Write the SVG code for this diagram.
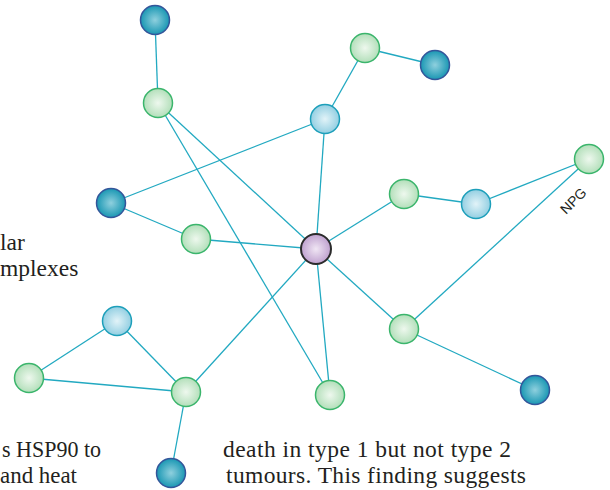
<svg xmlns="http://www.w3.org/2000/svg" width="610" height="490" viewBox="0 0 610 490">
<defs>
<radialGradient id="gDark" cx="50%" cy="50%" r="50%">
<stop offset="0" stop-color="#8fd0de"/>
<stop offset="1" stop-color="#1a97b3"/>
</radialGradient>
<radialGradient id="gLight" cx="50%" cy="50%" r="50%">
<stop offset="0" stop-color="#e2f3f8"/>
<stop offset="1" stop-color="#93cfe2"/>
</radialGradient>
<radialGradient id="gGreen" cx="50%" cy="50%" r="50%">
<stop offset="0" stop-color="#eef8ee"/>
<stop offset="1" stop-color="#b3dfba"/>
</radialGradient>
<radialGradient id="gPurple" cx="50%" cy="50%" r="50%">
<stop offset="0" stop-color="#f0e6f4"/>
<stop offset="1" stop-color="#bfa1cf"/>
</radialGradient>
</defs>
<style>
.edge{stroke:#22a9c1;stroke-width:1.3;fill:none}
.dark{fill:url(#gDark);stroke:#34559a;stroke-width:1.5}
.light{fill:url(#gLight);stroke:#1d9fba;stroke-width:1.5}
.green{fill:url(#gGreen);stroke:#3bb56c;stroke-width:1.5}
.purple{fill:url(#gPurple);stroke:#2b2b2b;stroke-width:2}
.body{font-family:"Liberation Serif","Times New Roman",serif;font-size:23.5px;fill:#231f20}
.npg{font-family:"Liberation Sans",Arial,sans-serif;font-size:14px;fill:#231f20}
</style>
<g id="connectors">
<line class="edge" x1="155" y1="20" x2="158" y2="103"/>
<line class="edge" x1="158" y1="103" x2="316" y2="249"/>
<line class="edge" x1="158" y1="103" x2="330" y2="395"/>
<line class="edge" x1="365" y1="48" x2="435" y2="65"/>
<line class="edge" x1="365" y1="48" x2="325" y2="119"/>
<line class="edge" x1="325" y1="119" x2="111" y2="203"/>
<line class="edge" x1="325" y1="119" x2="316" y2="249"/>
<line class="edge" x1="111" y1="203" x2="196" y2="239"/>
<line class="edge" x1="196" y1="239" x2="316" y2="249"/>
<line class="edge" x1="316" y1="249" x2="404" y2="194"/>
<line class="edge" x1="404" y1="194" x2="476" y2="204"/>
<line class="edge" x1="476" y1="204" x2="589" y2="159"/>
<line class="edge" x1="589" y1="159" x2="404" y2="329"/>
<line class="edge" x1="316" y1="249" x2="404" y2="329"/>
<line class="edge" x1="404" y1="329" x2="535" y2="390"/>
<line class="edge" x1="316" y1="249" x2="330" y2="395"/>
<line class="edge" x1="316" y1="249" x2="186" y2="392"/>
<line class="edge" x1="186" y1="392" x2="117" y2="321"/>
<line class="edge" x1="117" y1="321" x2="29" y2="378"/>
<line class="edge" x1="29" y1="378" x2="186" y2="392"/>
<line class="edge" x1="186" y1="392" x2="171" y2="473"/>
</g>
<g id="n-d1"><circle class="dark" cx="155" cy="20" r="14.5"/></g>
<g id="n-g1"><circle class="green" cx="158" cy="103" r="14.5"/></g>
<g id="n-g2"><circle class="green" cx="365" cy="48" r="14.5"/></g>
<g id="n-d2"><circle class="dark" cx="435" cy="65" r="14.5"/></g>
<g id="n-l1"><circle class="light" cx="325" cy="119" r="14.5"/></g>
<g id="n-d3"><circle class="dark" cx="111" cy="203" r="14.5"/></g>
<g id="n-g5"><circle class="green" cx="196" cy="239" r="14.5"/></g>
<g id="n-p"><circle class="purple" cx="316" cy="249" r="15"/></g>
<g id="n-g3"><circle class="green" cx="404" cy="194" r="14.5"/></g>
<g id="n-l2"><circle class="light" cx="476" cy="204" r="14.5"/></g>
<g id="n-g4"><circle class="green" cx="589" cy="159" r="14.5"/></g>
<g id="n-g6"><circle class="green" cx="404" cy="329" r="14.5"/></g>
<g id="n-d4"><circle class="dark" cx="535" cy="390" r="14.5"/></g>
<g id="n-l3"><circle class="light" cx="117" cy="321" r="14.5"/></g>
<g id="n-g7"><circle class="green" cx="29" cy="378" r="14.5"/></g>
<g id="n-g8"><circle class="green" cx="186" cy="392" r="14.5"/></g>
<g id="n-g9"><circle class="green" cx="330" cy="395" r="14.5"/></g>
<g id="n-d5"><circle class="dark" cx="171" cy="473" r="14.5"/></g>
<g id="texts">
<text class="body" x="0" y="250">lar</text>
<text class="body" x="0" y="276">mplexes</text>
<text class="body" x="2" y="457" textLength="99" lengthAdjust="spacingAndGlyphs">s HSP90 to</text>
<text class="body" x="0" y="483" textLength="77" lengthAdjust="spacingAndGlyphs">and heat</text>
<text class="body" x="223" y="457" textLength="288" lengthAdjust="spacing">death in type 1 but not type 2</text>
<text class="body" x="226" y="483" textLength="300" lengthAdjust="spacing">tumours. This finding suggests</text>
<text class="npg" transform="translate(566,215) rotate(-45)">NPG</text>
</g>
</svg>
